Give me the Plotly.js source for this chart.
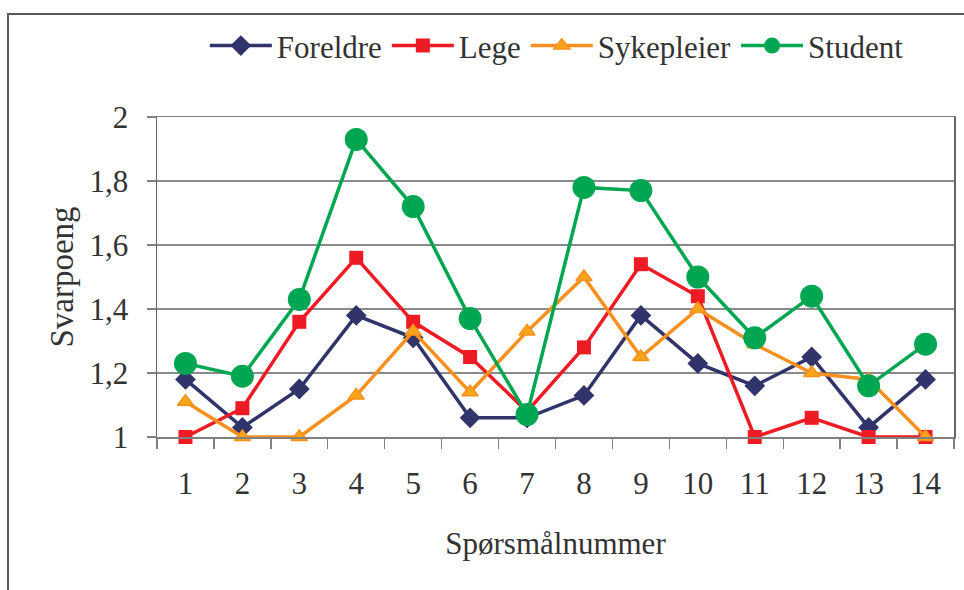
<!DOCTYPE html>
<html>
<head>
<meta charset="utf-8">
<script src="https://cdn.plot.ly/plotly-3.0.1.min.js"></script>
<style>
  html, body { margin: 0; padding: 0; background: #fff; }
  #chart { width: 964px; height: 590px; }
</style>
</head>
<body>
<div id="chart"></div>
<script>
const questions = ["1","2","3","4","5","6","7","8","9","10","11","12","13","14"];
const foreldre   = [1.18, 1.03, 1.15, 1.38, 1.31, 1.06, 1.06, 1.13, 1.38, 1.23, 1.16, 1.25, 1.03, 1.18];
const lege       = [1.00, 1.09, 1.36, 1.56, 1.36, 1.25, 1.08, 1.28, 1.54, 1.44, 1.00, 1.06, 1.00, 1.00];
const sykepleier = [1.11, 1.00, 1.00, 1.13, 1.33, 1.14, 1.33, 1.50, 1.25, 1.40, 1.29, 1.20, 1.18, 1.00];
const student    = [1.23, 1.19, 1.43, 1.93, 1.72, 1.37, 1.07, 1.78, 1.77, 1.50, 1.31, 1.44, 1.16, 1.29];
const yTicks = [1, 1.2, 1.4, 1.6, 1.8, 2];

const FONT = "Liberation Serif, Times New Roman, DejaVu Serif, serif";
const TXT = "#333333";

function series(name, y, color, symbol, size, fill, lineColor) {
  return {
    type: "scatter", mode: "lines+markers", name: name,
    x: questions, y: y, cliponaxis: false,
    line: { color: color, width: 3.5 },
    marker: { symbol: symbol, size: size, color: fill || color,
              line: { color: lineColor || color, width: lineColor ? 1.5 : 0 } }
  };
}

const data = [
  series("Foreldre", foreldre, "#31336B", "diamond", 16),
  series("Lege", lege, "#ED1C24", "square", 14),
  series("Sykepleier", sykepleier, "#F7901E", "triangle-up", 14, "#F9A51B", "#F7901E"),
  series("Student", student, "#00A651", "circle", 23)
];

const layout = {
  width: 964, height: 590,
  margin: { l: 157, r: 10, t: 117, b: 153 },
  paper_bgcolor: "#fff", plot_bgcolor: "#fff",
  separators: ",.",
  font: { family: FONT, size: 31, color: TXT },
  showlegend: true,
  legend: {
    orientation: "h", x: 0.06, y: 1.222, xanchor: "left", yanchor: "middle",
    font: { family: FONT, size: 31, color: TXT },
    itemwidth: 62, tracegroupgap: 0, bgcolor: "rgba(0,0,0,0)"
  },
  xaxis: {
    type: "category", tickson: "boundaries", range: [-0.5, 13.5],
    ticks: "outside", ticklen: 10, tickcolor: "#808080", tickwidth: 1.3,
    showline: true, linecolor: "#808080", linewidth: 1.5, mirror: true,
    showgrid: false, zeroline: false,
    tickfont: { family: FONT, size: 31, color: TXT },
    ticklabelstandoff: 18,
    title: { text: "Spørsmålnummer", font: { family: FONT, size: 31, color: TXT }, standoff: 32 }
  },
  yaxis: {
    range: [1, 2], tickvals: yTicks,
    ticks: "outside", ticklen: 9, tickcolor: "#808080", tickwidth: 1.3,
    showline: true, linecolor: "#666666", linewidth: 1.5, mirror: true,
    showgrid: true, gridcolor: "#8a8a8a", gridwidth: 1.3, zeroline: false,
    tickfont: { family: FONT, size: 31, color: TXT },
    ticklabelstandoff: 12,
    title: { text: "Svarpoeng", font: { family: FONT, size: 33, color: TXT }, standoff: 6 }
  },
  shapes: [{
    type: "rect", xref: "paper", yref: "paper", layer: "below",
    x0: (8 - 157) / 797, x1: 1.05, y0: -0.6, y1: (437 - 14) / 320,
    line: { color: "#5a5a5a", width: 2 }, fillcolor: "rgba(0,0,0,0)"
  }]
};

Plotly.newPlot("chart", data, layout, { displayModeBar: false, staticPlot: true });
</script>
</body>
</html>
